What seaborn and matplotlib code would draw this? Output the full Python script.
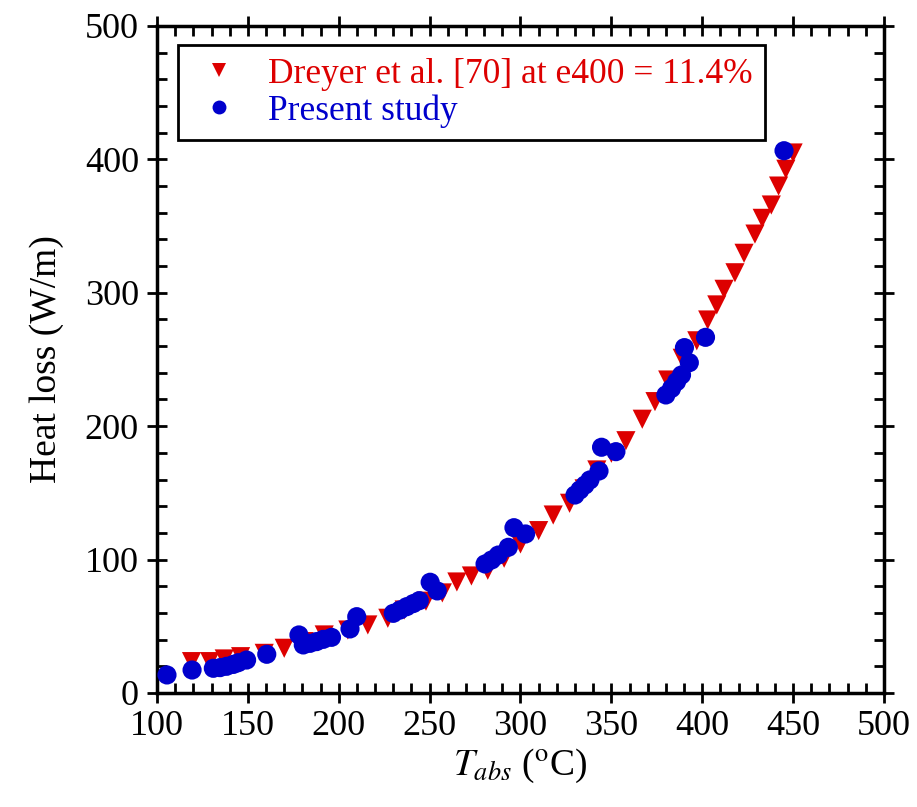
import numpy as np
import pandas as pd
import matplotlib
matplotlib.use("Agg")
import matplotlib.pyplot as plt
from matplotlib.ticker import MultipleLocator
import seaborn as sns

# Dreyer et al. [70] (red triangles)
dreyer_t = [119, 129, 137, 146, 159, 170, 181, 192, 205, 216, 227, 236, 248, 257,
            265, 273, 282, 291, 300, 310, 318, 327, 335, 342, 350, 358, 367, 374,
            381, 389, 397, 403, 408, 412, 418, 423, 429, 433, 438, 442, 446, 450]
dreyer_q = [23.5, 23.5, 25.5, 27.2, 29.7, 33.5, 38.5, 43.5, 47.2, 51, 56, 62.2, 68.8, 75,
            83.2, 87.7, 92, 101, 111.7, 121.7, 133.4, 142.2, 153, 167.2, 179.7, 189.1, 205.2, 218.4,
            234.6, 250.9, 264, 279.6, 290.9, 302.6, 315, 329.6, 344, 355.8, 365.8, 380, 392.6, 404.8]

# Present study (blue circles)
present_t = [105.5, 119.3, 131, 134.7, 138.3, 142, 144.7, 149.3, 160.4, 178.1, 180.5,
             184.2, 187.8, 191.5, 196, 206.2, 209.9, 230, 233.7, 237.4, 241, 244.3,
             250.3, 254.2, 280.5, 284.1, 287.8, 293.3, 296.4, 302.8, 330, 332.7, 335.5,
             338.2, 343.2, 344.6, 352.5, 380, 383.1, 385.9, 388.6, 390.2, 392.9, 401.8, 445]
present_q = [13.5, 17.2, 18.5, 19, 20, 21.4, 22.7, 24.7, 29, 43.5, 36,
             37.2, 38.5, 40.2, 41.7, 48, 57.2, 59.7, 62.2, 64.7, 67, 69.2,
             83, 76.5, 96.7, 99.7, 103.4, 109.2, 123.9, 119.2, 148.4, 152.2, 155.9,
             159.7, 166.4, 184.2, 180.9, 223.4, 228.3, 233.4, 238.4, 258.9, 247.6, 266.6, 406.5]

lab_d = "Dreyer et al. [70] at e400 = 11.4%"
lab_p = "Present study"
red = "#dd0000"
blue = "#0000cc"

df = pd.DataFrame({
    "T": dreyer_t + present_t,
    "Q": dreyer_q + present_q,
    "src": [lab_d] * len(dreyer_t) + [lab_p] * len(present_t),
})

sns.set_style("ticks")
plt.rcParams["font.family"] = ["Liberation Serif", "DejaVu Serif"]
plt.rcParams["mathtext.fontset"] = "stix"
plt.rcParams["text.color"] = "black"
plt.rcParams["axes.labelcolor"] = "black"

fig = plt.figure(figsize=(9.17, 8.07), dpi=100)
ax = fig.add_axes([0.1712, 0.1413, 0.7928, 0.8265])

sns.scatterplot(data=df, x="T", y="Q", hue="src", style="src",
                palette={lab_d: red, lab_p: blue},
                markers={lab_d: "v", lab_p: "o"},
                s=190, linewidth=0, ax=ax, zorder=3)

ax.set_xlim(100, 500)
ax.set_ylim(0, 500)
ax.xaxis.set_major_locator(MultipleLocator(50))
ax.xaxis.set_minor_locator(MultipleLocator(10))
ax.yaxis.set_major_locator(MultipleLocator(100))
ax.yaxis.set_minor_locator(MultipleLocator(20))
ax.tick_params(which="both", top=True, right=True, labeltop=False, labelright=False,
               width=2, labelsize=26, colors="black")
ax.tick_params(which="major", direction="inout", length=14)
ax.tick_params(which="minor", direction="in", length=7)
ax.tick_params(axis="y", which="major", pad=6)
ax.tick_params(axis="x", which="major", pad=5)
for sp in ax.spines.values():
    sp.set_linewidth(2.5)
    sp.set_color("black")

ax.set_xlabel(r"$T_{abs}$ ($^{\rm o}$C)", fontsize=27, labelpad=3)
ax.set_ylabel("Heat loss (W/m)", fontsize=27, labelpad=15)

h, l = ax.get_legend_handles_labels()
for hh in h:
    hh.set_markersize(10)
leg = ax.legend(h, l, loc="upper left", bbox_to_anchor=(0.029, 0.971),
                fontsize=25.5, frameon=True, fancybox=False, framealpha=1,
                borderpad=0.35, handletextpad=0.6, handlelength=1.6,
                labelspacing=0.1, borderaxespad=0)
leg.get_frame().set_edgecolor("black")
leg.get_frame().set_linewidth(2)
leg.get_texts()[0].set_color(red)
leg.get_texts()[1].set_color(blue)

fig.savefig("out.png", dpi=100)
